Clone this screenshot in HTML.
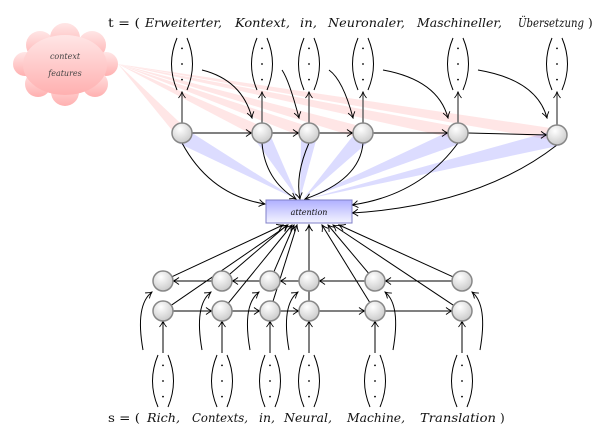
<!DOCTYPE html>
<html><head><meta charset="utf-8">
<style>
html,body{margin:0;padding:0;background:#fff;width:606px;height:439px;overflow:hidden}
svg{display:block}
text{font-family:"DejaVu Serif","Liberation Serif",serif;font-size:12px;fill:#111}
.i{font-style:italic}
</style></head>
<body>
<svg id="s" width="606" height="439" viewBox="0 0 606 439" xmlns="http://www.w3.org/2000/svg">
<defs>
<radialGradient id="ng" cx="0.4" cy="0.3" r="0.8">
<stop offset="0" stop-color="#ffffff"/><stop offset="1" stop-color="#c4c4c4"/></radialGradient>
<linearGradient id="bg" x1="0" y1="0" x2="0" y2="1">
<stop offset="0" stop-color="#b0b0ff"/><stop offset="1" stop-color="#f4f4ff"/></linearGradient>
<linearGradient id="cg" x1="0" y1="0" x2="0" y2="1">
<stop offset="0" stop-color="#ffe6e6"/><stop offset="1" stop-color="#ffb0b0"/></linearGradient>
<marker id="a" markerWidth="8" markerHeight="8" refX="7" refY="4" orient="auto" markerUnits="userSpaceOnUse">
<path d="M1,0.5 Q4,3 7,4 Q4,5 1,7.5" fill="none" stroke="#000" stroke-width="0.9"/></marker>
</defs>
<g id="beams"></g>
<g id="lines" fill="none" stroke="#000" stroke-width="1"></g>
<g id="nodes"></g>
<g fill="url(#cg)">
<circle cx="40" cy="45" r="14"/><circle cx="65" cy="38" r="15"/><circle cx="92" cy="45" r="14"/>
<circle cx="106" cy="64" r="12"/><circle cx="95" cy="84" r="13"/><circle cx="65" cy="92" r="14"/>
<circle cx="38" cy="84" r="13"/><circle cx="25" cy="64" r="12"/><ellipse cx="65" cy="65" rx="42" ry="30"/>
</g>
<text x="65" y="59" text-anchor="middle" class="i" style="font-size:8px;fill:#444">context</text>
<text x="65" y="76" text-anchor="middle" class="i" style="font-size:8px;fill:#444">features</text>
<rect x="266" y="200" width="86" height="23" fill="url(#bg)" stroke="#8080c8" stroke-width="1"/>
<text x="309" y="215" text-anchor="middle" class="i" style="font-size:8px">attention</text>
<text x="108" y="27" textLength="32" lengthAdjust="spacingAndGlyphs">t = (</text>
<text x="145" y="27" class="i" textLength="77" lengthAdjust="spacingAndGlyphs">Erweiterter,</text>
<text x="235" y="27" class="i" textLength="55" lengthAdjust="spacingAndGlyphs">Kontext,</text>
<text x="300" y="27" class="i" textLength="17" lengthAdjust="spacingAndGlyphs">in,</text>
<text x="328" y="27" class="i" textLength="77" lengthAdjust="spacingAndGlyphs">Neuronaler,</text>
<text x="417" y="27" class="i" textLength="85" lengthAdjust="spacingAndGlyphs">Maschineller,</text>
<text x="518" y="27" class="i" textLength="66" lengthAdjust="spacingAndGlyphs">Übersetzung</text>
<text x="588" y="27">)</text>
<text x="108" y="422" textLength="32" lengthAdjust="spacingAndGlyphs">s = (</text>
<text x="147" y="422" class="i" textLength="33" lengthAdjust="spacingAndGlyphs">Rich,</text>
<text x="192" y="422" class="i" textLength="56" lengthAdjust="spacingAndGlyphs">Contexts,</text>
<text x="259" y="422" class="i" textLength="16" lengthAdjust="spacingAndGlyphs">in,</text>
<text x="284" y="422" class="i" textLength="48" lengthAdjust="spacingAndGlyphs">Neural,</text>
<text x="347" y="422" class="i" textLength="58" lengthAdjust="spacingAndGlyphs">Machine,</text>
<text x="420" y="422" class="i" textLength="76" lengthAdjust="spacingAndGlyphs">Translation</text>
<text x="500" y="422">)</text>
</svg>
<script>
var NS="http://www.w3.org/2000/svg";
function el(p,t,a){var e=document.createElementNS(NS,t);for(var k in a)e.setAttribute(k,a[k]);document.getElementById(p).appendChild(e);return e;}
function ln(d,m){el("lines","path",Object.assign({d:d},m===false?{}:{"marker-end":"url(#a)"}));}
function beam(x1,y1,x2,y2,w,col){var dx=x2-x1,dy=y2-y1,L=Math.hypot(dx,dy),px=-dy/L*w,py=dx/L*w;
 el("beams","polygon",{points:x1+","+y1+" "+(x2+px)+","+(y2+py)+" "+(x2-px)+","+(y2-py),fill:col});}
function vec(x,y1,y2){
 var h=y2-y1,c=(y1+y2)/2;
 ln("M"+(x-5)+","+y1+" Q"+(x-16)+","+c+" "+(x-5)+","+y2,false);
 ln("M"+(x+5)+","+y1+" Q"+(x+16)+","+c+" "+(x+5)+","+y2,false);
 [0.2,0.5,0.8].forEach(function(f){el("nodes","circle",{cx:x,cy:y1+h*f,r:0.9,fill:"#000"});});
}
function node(x,y){el("nodes","circle",{cx:x,cy:y,r:10,fill:"url(#ng)",stroke:"#888","stroke-width":1.5});}
var T=[182,262,309,363,458,557],TY=[133,133,133,133,133,135];
T.forEach(function(x,i){beam(118,64,x,TY[i],6,"rgba(255,140,140,0.22)");});
var ax=[296,298,300,303,305,307];
T.forEach(function(x,i){beam(ax[i],199,x,TY[i]+3,8,"rgba(140,140,255,0.3)");});
T.forEach(function(x,i){
 vec(x,38,90);
 el("lines","path",{d:"M"+x+","+(TY[i]-10)+" L"+x+",92","marker-end":"url(#a)",stroke:"#666","stroke-width":1.5});
 if(i<5){var x2=T[i+1];ln("M"+(x+10)+","+TY[i]+" L"+(x2-10)+","+TY[i+1]);
  ln("M"+(x+20)+",70 Q"+(x2-20)+",80 "+(x2-10)+",118");}
});
ln("M182,143 Q210,195 265,204");
ln("M262,143 Q265,180 296,199");
ln("M309,143 Q295,175 300,199");
ln("M363,143 Q360,180 305,199");
ln("M458,143 Q420,195 352,205");
ln("M557,145 Q480,205 352,213");
var B=[163,222,270,309,375,462],UY=281,LY=311;
B.forEach(function(x,i){
 vec(x,355,407);
 ln("M"+x+",353 L"+x+","+(LY+10));
 if(i<5){ln("M"+(x+10)+","+LY+" L"+(B[i+1]-10)+","+LY); ln("M"+(B[i+1]-10)+","+UY+" L"+(x+10)+","+UY);}
 var left=i<4;
 var sx=left?x-20:x+18, ex=left?x-11:x+10;
 ln("M"+sx+",350 Q"+(left?sx-8:sx+8)+",305 "+ex+",292");
});
var up=[[163,281,283],[222,281,287],[270,281,294],[309,281,309],[375,281,328],[462,281,339]];
var lo=[[163,311,288],[222,311,292],[270,311,297],[309,311,309],[375,311,322],[462,311,333]];
up.concat(lo).forEach(function(p){var dx=p[2]-p[0],dy=224-p[1],L=Math.hypot(dx,dy);ln("M"+(p[0]+dx/L*10)+","+(p[1]+dy/L*10)+" L"+p[2]+",225");});
T.forEach(function(x,i){node(x,TY[i]);});
B.forEach(function(x){node(x,UY);node(x,LY);});
</script>
</body></html>
